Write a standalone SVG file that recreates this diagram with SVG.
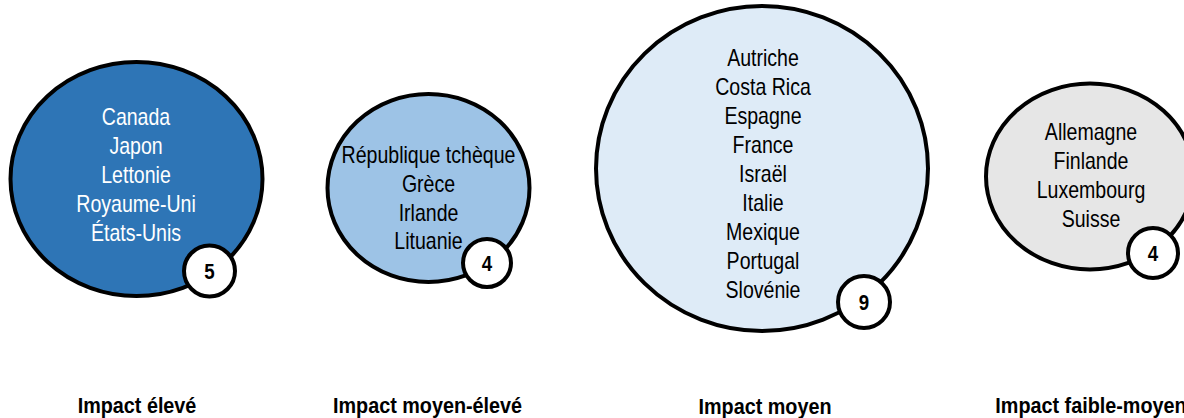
<svg xmlns="http://www.w3.org/2000/svg" width="1184" height="418" viewBox="0 0 1184 418">
<style>
.bub{stroke:#000;stroke-width:4}
.badge{fill:#fff;stroke:#000;stroke-width:4}
.t{font-family:"Liberation Sans",Arial,sans-serif;font-size:23px;text-anchor:middle;fill:#000}
.w{fill:#fff}
.n{font-family:"Liberation Sans",Arial,sans-serif;font-size:22px;font-weight:bold;text-anchor:middle;fill:#000}
.lab{font-family:"Liberation Sans",Arial,sans-serif;font-size:22px;font-weight:bold;text-anchor:middle;fill:#000}
</style>
<rect width="1184" height="418" fill="#fff"/>
<g id="node-eleve">
<ellipse class="bub" cx="136.5" cy="179" rx="126" ry="117" fill="#2E75B6"/>
<g transform="translate(136,0) scale(0.85,1)">
<text class="t w" x="0" y="125">Canada</text>
<text class="t w" x="0" y="154">Japon</text>
<text class="t w" x="0" y="183">Lettonie</text>
<text class="t w" x="0" y="212">Royaume-Uni</text>
<text class="t w" x="0" y="241">États-Unis</text>
</g>
<circle class="badge" cx="209.5" cy="271" r="25.5"/>
<text class="n" transform="translate(209.5,279) scale(0.85,1)">5</text>
<text class="lab" transform="translate(137,413) scale(0.9,1)">Impact élevé</text>
</g>
<g id="node-moyen-eleve">
<ellipse class="bub" cx="428.5" cy="188" rx="101" ry="94" fill="#9DC3E6"/>
<g transform="translate(428.5,0) scale(0.85,1)">
<text class="t" x="0" y="163">République tchèque</text>
<text class="t" x="0" y="192">Grèce</text>
<text class="t" x="0" y="221">Irlande</text>
<text class="t" x="0" y="249">Lituanie</text>
</g>
<circle class="badge" cx="487" cy="263" r="24"/>
<text class="n" transform="translate(487,271) scale(0.85,1)">4</text>
<text class="lab" transform="translate(427.5,413) scale(0.9,1)">Impact moyen-élevé</text>
</g>
<g id="node-moyen">
<ellipse class="bub" cx="762" cy="168.5" rx="166" ry="162.5" fill="#DEEBF7"/>
<g transform="translate(763,0) scale(0.85,1)">
<text class="t" x="0" y="66">Autriche</text>
<text class="t" x="0" y="95">Costa Rica</text>
<text class="t" x="0" y="124">Espagne</text>
<text class="t" x="0" y="153">France</text>
<text class="t" x="0" y="182">Israël</text>
<text class="t" x="0" y="211">Italie</text>
<text class="t" x="0" y="240">Mexique</text>
<text class="t" x="0" y="269">Portugal</text>
<text class="t" x="0" y="298">Slovénie</text>
</g>
<circle class="badge" cx="864" cy="302" r="26"/>
<text class="n" transform="translate(864,310) scale(0.85,1)">9</text>
<text class="lab" transform="translate(765,414) scale(0.9,1)">Impact moyen</text>
</g>
<g id="node-faible-moyen">
<ellipse class="bub" cx="1090" cy="176.5" rx="104" ry="93" fill="#E6E6E6"/>
<g transform="translate(1091,0) scale(0.85,1)">
<text class="t" x="0" y="140">Allemagne</text>
<text class="t" x="0" y="169">Finlande</text>
<text class="t" x="0" y="198">Luxembourg</text>
<text class="t" x="0" y="227">Suisse</text>
</g>
<circle class="badge" cx="1153" cy="253" r="25"/>
<text class="n" transform="translate(1153,261) scale(0.85,1)">4</text>
<text class="lab" transform="translate(1091,413) scale(0.9,1)">Impact faible-moyen</text>
</g>
<g id="connectors"></g>
</svg>
